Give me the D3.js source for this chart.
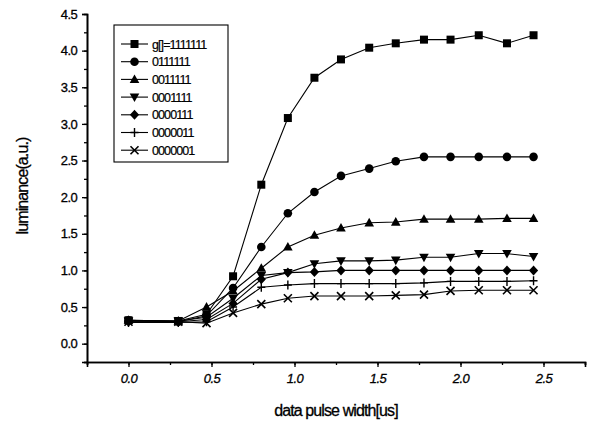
<!DOCTYPE html>
<html>
<head>
<meta charset="utf-8">
<script src="https://cdn.jsdelivr.net/npm/d3@7"></script>
<style>
  body { margin: 0; background: #fff; }
  svg { display: block; font-family: "Liberation Sans", Arial, sans-serif; }
</style>
</head>
<body>
<svg id="canvas" width="593" height="428"></svg>
<script>
// x values (us)
let pulseWidth = [0, 0.3, 0.47, 0.63, 0.8, 0.96, 1.12, 1.28, 1.45, 1.61, 1.78, 1.94, 2.11, 2.28, 2.44]

// luminance per gray code
let s1111111 = [0.32, 0.31, 0.40, 0.92, 2.17, 3.08, 3.63, 3.88, 4.04, 4.10, 4.15, 4.15, 4.21, 4.10, 4.21]
let s0111111 = [0.32, 0.30, 0.38, 0.76, 1.32, 1.78, 2.07, 2.29, 2.39, 2.49, 2.55, 2.55, 2.55, 2.55, 2.55]
let s0011111 = [0.32, 0.31, 0.50, 0.72, 1.03, 1.32, 1.48, 1.58, 1.65, 1.66, 1.70, 1.70, 1.70, 1.71, 1.71]
let s0001111 = [0.31, 0.31, 0.36, 0.62, 0.93, 0.97, 1.09, 1.13, 1.13, 1.14, 1.18, 1.18, 1.23, 1.23, 1.19]
let s0000111 = [0.30, 0.30, 0.33, 0.55, 0.88, 0.97, 0.98, 1.00, 1.00, 1.00, 1.00, 1.00, 1.00, 1.00, 1.00]
let s0000011 = [0.29, 0.29, 0.30, 0.50, 0.77, 0.80, 0.82, 0.82, 0.82, 0.82, 0.83, 0.85, 0.85, 0.85, 0.86]
let s0000001 = [0.30, 0.30, 0.28, 0.42, 0.54, 0.62, 0.65, 0.65, 0.65, 0.66, 0.67, 0.72, 0.73, 0.73, 0.73]

let legendLabels = ['g[]=1111111', '0111111', '0011111', '0001111', '0000111', '0000011', '0000001']
let markerTypes = ['square', 'circle', 'triangle', 'down', 'diamond', 'plus', 'cross']
let xTicks = [0, 0.5, 1.0, 1.5, 2.0, 2.5]
let yTicks = [0, 0.5, 1, 1.5, 2, 2.5, 3, 3.5, 4, 4.5]

let allSeries = [s1111111, s0111111, s0011111, s0001111, s0000111, s0000011, s0000001]

let canvas = d3.select('#canvas')

let xScale = d3.scaleLinear().domain([-0.25, 2.75]).range([87, 585])
let yScale = d3.scaleLinear().domain([-0.25, 4.5]).range([362, 14])

let drawMarker = (sel, type, x, y) => {
    if (type === 'square') {
        sel.append('rect').attr('x', x - 4).attr('y', y - 4).attr('width', 8).attr('height', 8).attr('fill', '#000')
    } else if (type === 'circle') {
        sel.append('circle').attr('cx', x).attr('cy', y).attr('r', 4.3).attr('fill', '#000')
    } else if (type === 'triangle') {
        sel.append('path').attr('d', `M${x},${y - 5}L${x + 4.8},${y + 3.6}L${x - 4.8},${y + 3.6}Z`).attr('fill', '#000')
    } else if (type === 'down') {
        sel.append('path').attr('d', `M${x},${y + 5}L${x + 4.8},${y - 3.6}L${x - 4.8},${y - 3.6}Z`).attr('fill', '#000')
    } else if (type === 'diamond') {
        sel.append('path').attr('d', `M${x},${y - 5}L${x + 4.6},${y}L${x},${y + 5}L${x - 4.6},${y}Z`).attr('fill', '#000')
    } else if (type === 'plus') {
        sel.append('path').attr('d', `M${x - 4},${y}H${x + 4}M${x},${y - 4.5}V${y + 4.5}`)
            .attr('stroke', '#000').attr('stroke-width', 1.4).attr('fill', 'none')
    } else {
        sel.append('path').attr('d', `M${x - 4},${y - 4}L${x + 4},${y + 4}M${x + 4},${y - 4}L${x - 4},${y + 4}`)
            .attr('stroke', '#000').attr('stroke-width', 1.6).attr('fill', 'none')
    }
}

// axes
let xAxis = d3.axisBottom(xScale).tickValues(xTicks).tickSize(5).tickFormat(d3.format('.1f'))
let xMinor = d3.axisBottom(xScale).tickValues(d3.range(-0.25, 2.76, 0.25)).tickSize(3).tickFormat('')
let yAxis = d3.axisLeft(yScale).tickValues(yTicks).tickSize(5).tickFormat(d3.format('.1f'))
let yMinor = d3.axisLeft(yScale).tickValues(d3.range(-0.25, 4.5, 0.25)).tickSize(3).tickFormat('')

canvas.append('g').attr('transform', 'translate(0,362)').call(xMinor)
canvas.append('g').attr('transform', 'translate(0,362)').call(xAxis)
    .call(g => g.selectAll('text').attr('dy', '1.0em').attr('font-style', 'italic'))
canvas.append('g').attr('transform', 'translate(87,0)').call(yMinor)
canvas.append('g').attr('transform', 'translate(87,0)').call(yAxis)
    .call(g => g.selectAll('text').attr('dx', '-0.15em'))

canvas.selectAll('.domain').attr('stroke', '#000').attr('stroke-width', 1.6)
canvas.selectAll('.tick line').attr('stroke', '#000').attr('stroke-width', 1.3)
canvas.selectAll('.tick text').attr('font-size', 13).attr('fill', '#000').attr('letter-spacing', -0.6)
    .attr('stroke', '#000').attr('stroke-width', 0.3)
    .attr('font-family', '"Liberation Sans", Arial, sans-serif')

// axis titles
canvas.append('text').attr('x', 336).attr('y', 416).attr('text-anchor', 'middle')
    .attr('font-size', 16).attr('letter-spacing', -0.9).attr('stroke', '#000').attr('stroke-width', 0.3)
    .text('data pulse width[us]')
canvas.append('text').attr('transform', 'translate(28,186) rotate(-90)').attr('text-anchor', 'middle')
    .attr('font-size', 16).attr('letter-spacing', -0.9).attr('stroke', '#000').attr('stroke-width', 0.3)
    .text('luminance(a.u.)')

// series
let line = d3.line().x((d, i) => xScale(pulseWidth[i])).y(d => yScale(d))
allSeries.forEach((values, k) => {
    canvas.append('path').datum(values).attr('d', line)
        .attr('fill', 'none').attr('stroke', '#000').attr('stroke-width', 1.1)
    let g = canvas.append('g')
    values.forEach((v, i) => drawMarker(g, markerTypes[k], xScale(pulseWidth[i]), yScale(v)))
})

// legend
let legend = canvas.append('g')
legend.append('rect').attr('x', 114).attr('y', 25).attr('width', 114).attr('height', 137)
    .attr('fill', '#fff').attr('stroke', '#000').attr('stroke-width', 1.1)
legendLabels.forEach((label, k) => {
    let y = 44 + k * 17.7
    legend.append('line').attr('x1', 121).attr('x2', 148).attr('y1', y).attr('y2', y)
        .attr('stroke', '#000').attr('stroke-width', 1.1)
    drawMarker(legend, markerTypes[k], 134.5, y)
    legend.append('text').attr('x', 152).attr('y', y + 4.5).attr('font-size', 12.5)
        .attr('letter-spacing', -0.9).attr('stroke', '#000').attr('stroke-width', 0.2).text(label)
})
</script>
</body>
</html>
